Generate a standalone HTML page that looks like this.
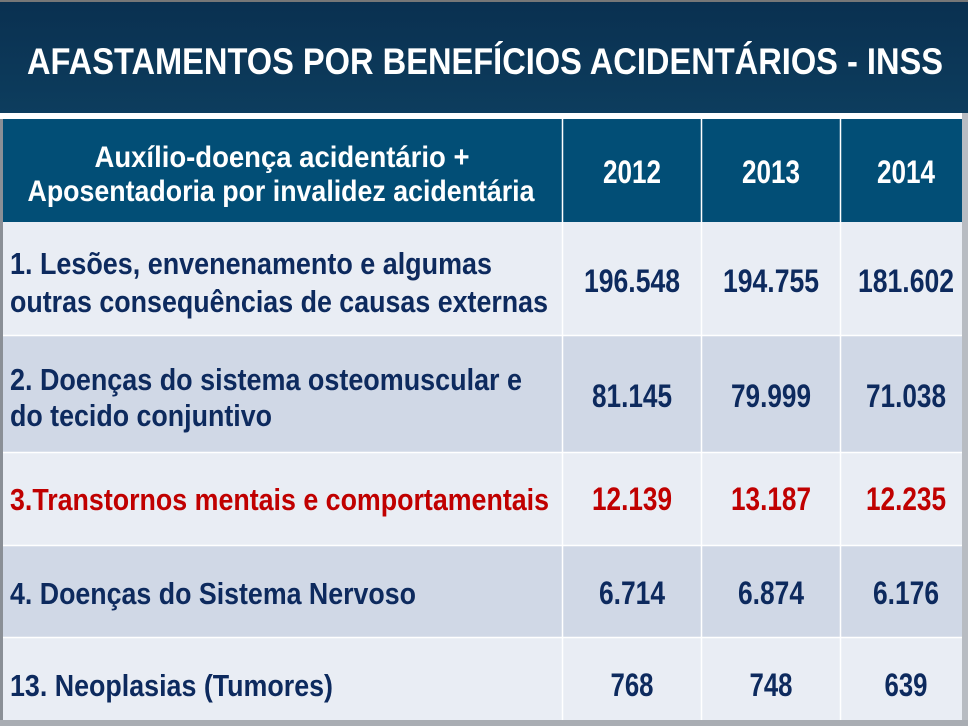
<!DOCTYPE html>
<html><head><meta charset="utf-8"><style>
html,body{margin:0;padding:0;background:#fff;}
svg{display:block;}
text{font-family:"Liberation Sans",Arial,sans-serif;font-weight:bold;}
</style></head><body>
<svg width="968" height="726" viewBox="0 0 968 726" xmlns="http://www.w3.org/2000/svg">
<defs>
<linearGradient id="tg" x1="0" y1="0" x2="0" y2="1">
<stop offset="0" stop-color="#0a3050"/><stop offset="1" stop-color="#0d3d5e"/>
</linearGradient>
</defs>
<rect x="0" y="0" width="968" height="726" fill="#ffffff"/>
<rect x="0" y="0" width="968" height="113" fill="url(#tg)"/>
<rect x="0" y="0" width="968" height="2" fill="#777"/>
<text x="485" y="74" font-size="37" fill="#fff" text-anchor="middle" textLength="916" lengthAdjust="spacingAndGlyphs">AFASTAMENTOS POR BENEFÍCIOS ACIDENTÁRIOS - INSS</text>
<rect x="0" y="119" width="964" height="103" fill="#024e76"/>
<rect x="0" y="222" width="964" height="113" fill="#e9edf4"/>
<rect x="0" y="336" width="964" height="116" fill="#d0d8e6"/>
<rect x="0" y="453" width="964" height="92" fill="#e9edf4"/>
<rect x="0" y="546" width="964" height="91" fill="#d0d8e6"/>
<rect x="0" y="638" width="964" height="82" fill="#e9edf4"/>
<g stroke="#fff" stroke-width="1.5">
<line x1="0" y1="335.5" x2="964" y2="335.5"/>
<line x1="0" y1="452.5" x2="964" y2="452.5"/>
<line x1="0" y1="545.5" x2="964" y2="545.5"/>
<line x1="0" y1="637.5" x2="964" y2="637.5"/>
<line x1="562.5" y1="119" x2="562.5" y2="720"/>
<line x1="701.5" y1="119" x2="701.5" y2="720"/>
<line x1="840.5" y1="119" x2="840.5" y2="720"/>
</g>
<rect x="0" y="119" width="3" height="603" fill="#8a8f96"/>
<rect x="962" y="113" width="6" height="613" fill="#b8bcc2"/>
<rect x="0" y="720" width="968" height="6" fill="#a9adb3"/>
<g fill="#fff" font-size="30" text-anchor="middle">
<text x="282" y="167" textLength="375" lengthAdjust="spacingAndGlyphs">Auxílio-doença acidentário  +</text>
<text x="281" y="201" textLength="507" lengthAdjust="spacingAndGlyphs">Aposentadoria por invalidez acidentária</text>
<text x="632" y="183" font-size="32" textLength="58" lengthAdjust="spacingAndGlyphs">2012</text>
<text x="771" y="183" font-size="32" textLength="58" lengthAdjust="spacingAndGlyphs">2013</text>
<text x="906" y="183" font-size="32" textLength="58" lengthAdjust="spacingAndGlyphs">2014</text>
</g>
<g fill="#0d2a5e" font-size="31">
<text x="10" y="274" textLength="482" lengthAdjust="spacingAndGlyphs">1. Lesões, envenenamento e algumas</text>
<text x="10" y="312" textLength="538" lengthAdjust="spacingAndGlyphs">outras consequências de causas externas</text>
<text x="10" y="390" textLength="512" lengthAdjust="spacingAndGlyphs">2. Doenças do sistema osteomuscular e</text>
<text x="10" y="426" textLength="262" lengthAdjust="spacingAndGlyphs">do tecido conjuntivo</text>
<text x="10" y="604" textLength="406" lengthAdjust="spacingAndGlyphs">4. Doenças do Sistema Nervoso</text>
<text x="10" y="696" textLength="323" lengthAdjust="spacingAndGlyphs">13. Neoplasias (Tumores)</text>
</g>
<g fill="#0d2a5e" font-size="32" text-anchor="middle">
<text x="632" y="292" textLength="96" lengthAdjust="spacingAndGlyphs">196.548</text>
<text x="771" y="292" textLength="96" lengthAdjust="spacingAndGlyphs">194.755</text>
<text x="906" y="292" textLength="96" lengthAdjust="spacingAndGlyphs">181.602</text>
<text x="632" y="407" textLength="80" lengthAdjust="spacingAndGlyphs">81.145</text>
<text x="771" y="407" textLength="80" lengthAdjust="spacingAndGlyphs">79.999</text>
<text x="906" y="407" textLength="80" lengthAdjust="spacingAndGlyphs">71.038</text>
<text x="632" y="604" textLength="66" lengthAdjust="spacingAndGlyphs">6.714</text>
<text x="771" y="604" textLength="66" lengthAdjust="spacingAndGlyphs">6.874</text>
<text x="906" y="604" textLength="66" lengthAdjust="spacingAndGlyphs">6.176</text>
<text x="632" y="696" textLength="43" lengthAdjust="spacingAndGlyphs">768</text>
<text x="771" y="696" textLength="43" lengthAdjust="spacingAndGlyphs">748</text>
<text x="906" y="696" textLength="43" lengthAdjust="spacingAndGlyphs">639</text>
</g>
<g fill="#c00000" font-size="32">
<text x="10" y="510" font-size="31" textLength="539" lengthAdjust="spacingAndGlyphs">3.Transtornos mentais e comportamentais</text>
<text x="632" y="510" text-anchor="middle" textLength="80" lengthAdjust="spacingAndGlyphs">12.139</text>
<text x="771" y="510" text-anchor="middle" textLength="80" lengthAdjust="spacingAndGlyphs">13.187</text>
<text x="906" y="510" text-anchor="middle" textLength="80" lengthAdjust="spacingAndGlyphs">12.235</text>
</g>
</svg>
</body></html>
